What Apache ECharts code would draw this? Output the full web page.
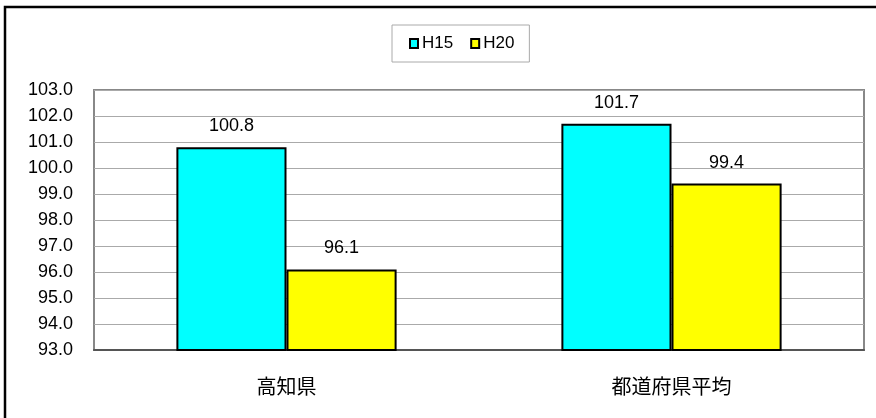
<!DOCTYPE html>
<html><head><meta charset="utf-8">
<script src="https://cdn.jsdelivr.net/npm/echarts@6/dist/echarts.min.js"></script>
<style>html,body{margin:0;padding:0;background:#fff}#c{width:876px;height:418px}</style>
</head><body><div id="c"></div>
<script>
var categories = ['高知県', '都道府県平均'];
var seriesNames = ['H15', 'H20'];
var h15 = [100.8, 101.7];
var h20 = [96.1, 99.4];
var yTicks = {min: 93, max: 103, interval: 1};

var chart = echarts.init(document.getElementById('c'));
var font = '"Liberation Sans", Arial, sans-serif';
function mk(name, data, color) {
  return {
    name: name, type: 'bar', data: data, barWidth: '28.6%', barGap: '0%',
    itemStyle: {color: color, borderColor: '#000', borderWidth: 2},
    label: {show: true, position: 'top', distance: 12, color: '#000', fontSize: 18, fontFamily: font,
      formatter: function(p){ return p.value.toFixed(1); }},
    emphasis: {disabled: true}
  };
}
chart.setOption({
  animation: false,
  graphic: [{type: 'rect', shape: {x: 5, y: 7, width: 900, height: 450},
    style: {fill: 'none', stroke: '#000', lineWidth: 2.5}, z: 100}],
  legend: {
    data: seriesNames, top: 25, left: 392, itemWidth: 8, itemHeight: 9, itemGap: 17,
    padding: [10, 15, 10, 17], borderColor: '#aaa', borderWidth: 1,
    textStyle: {fontSize: 17, fontFamily: font, color: '#000', padding: [4, 0, 0, -1]},
    icon: 'rect'
  },
  grid: {left: 94, right: 12, top: 90, bottom: 68, show: true, borderColor: '#888', borderWidth: 2, containLabel: false},
  xAxis: {
    type: 'category', data: categories,
    axisLine: {lineStyle: {color: '#555', width: 2}},
    axisTick: {inside: true, length: 7, lineStyle: {color: '#999'}},
    axisLabel: {margin: 26, fontSize: 20, color: '#000', fontFamily: '"Noto Sans CJK JP", sans-serif'}
  },
  yAxis: {
    type: 'value', min: yTicks.min, max: yTicks.max, interval: yTicks.interval,
    axisLine: {show: false}, axisTick: {show: false},
    splitLine: {lineStyle: {color: '#aaa', width: 1}},
    axisLabel: {margin: 21, fontSize: 18, color: '#000', fontFamily: font,
      formatter: function(v){ return v.toFixed(1); }}
  },
  series: [mk('H15', h15, '#00ffff'), mk('H20', h20, '#ffff00')]
});
</script></body></html>
